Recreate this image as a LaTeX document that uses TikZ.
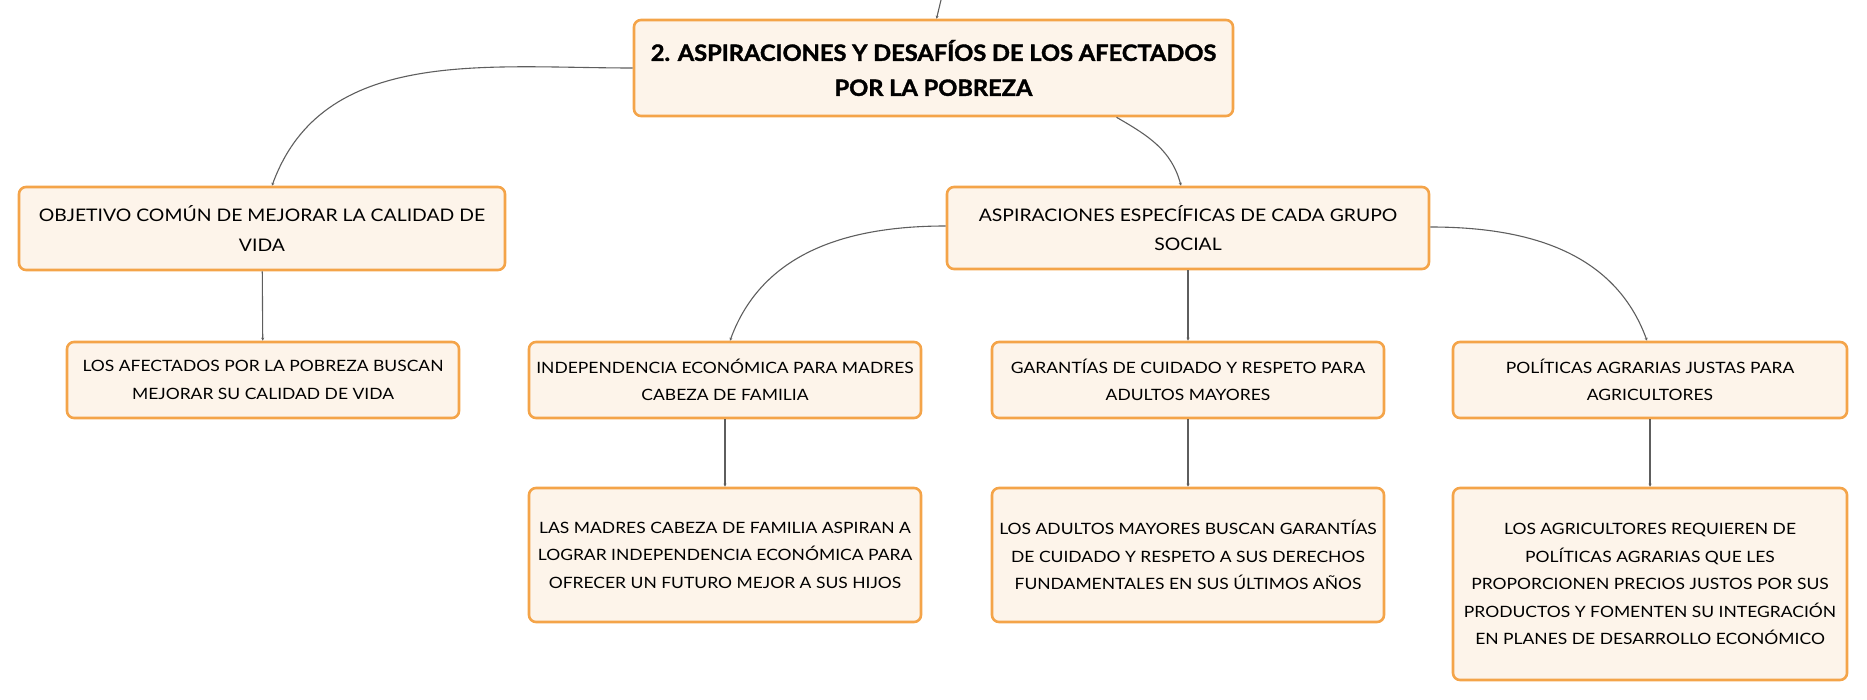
\documentclass[tikz,border=0pt]{standalone}
\usepackage{fontspec}
\setmainfont{Lato}[FakeStretch=1.12]
\newfontfamily\titlefont{Lato}[FakeStretch=1.05,BoldFeatures={FakeBold=1.6}]
\usetikzlibrary{
    positioning,
    arrows.meta,
    calc
}
\definecolor{boxfill}{HTML}{FDF4EA}
\definecolor{boxline}{HTML}{F4A449}
\definecolor{linkgray}{HTML}{5E5E5E}

\begin{document}
\begin{tikzpicture}[x=1pt,y=-1pt,
		box/.style={draw=boxline,line width=2.6pt,fill=boxfill,rounded corners=7pt,align=center,inner sep=0pt,font=\fontsize{15.6}{27.5}\selectfont},
		topic/.style={box,font=\fontsize{17.3}{29.5}\selectfont},
		link/.style={draw=linkgray,line width=1.1pt,-{Stealth[length=3pt,width=3pt]}}]
		\useasboundingbox (0,0) rectangle (1867,700);
		\node[box,minimum width=599,minimum height=96,font=\titlefont\fontsize{22.5}{35}\selectfont\bfseries] (main) at (933.5,68) {2. ASPIRACIONES Y DESAFÍOS DE LOS AFECTADOS\\POR LA POBREZA};
		\node[topic,minimum width=486,minimum height=83] (obj) at (262,228.5) {OBJETIVO COMÚN DE MEJORAR LA CALIDAD DE\\VIDA};
		\node[box,minimum width=392,minimum height=76] (afe) at (263,380) {LOS AFECTADOS POR LA POBREZA BUSCAN\\MEJORAR SU CALIDAD DE VIDA};
		\node[topic,minimum width=482,minimum height=82] (asp) at (1188,228) {ASPIRACIONES ESPECÍFICAS DE CADA GRUPO\\SOCIAL};
		\node[box,minimum width=392,minimum height=76] (ind) at (725,380) {INDEPENDENCIA ECONÓMICA PARA MADRES\\CABEZA DE FAMILIA};
		\node[box,minimum width=392,minimum height=76] (gar) at (1188,380) {GARANTÍAS DE CUIDADO Y RESPETO PARA\\ADULTOS MAYORES};
		\node[box,minimum width=394,minimum height=76] (pol) at (1650,380) {POLÍTICAS AGRARIAS JUSTAS PARA\\AGRICULTORES};
		\node[box,minimum width=392,minimum height=134] (mad) at (725,555) {LAS MADRES CABEZA DE FAMILIA ASPIRAN A\\LOGRAR INDEPENDENCIA ECONÓMICA PARA\\OFRECER UN FUTURO MEJOR A SUS HIJOS};
		\node[box,minimum width=392,minimum height=134] (adu) at (1188,555) {LOS ADULTOS MAYORES BUSCAN GARANTÍAS\\DE CUIDADO Y RESPETO A SUS DERECHOS\\FUNDAMENTALES EN SUS ÚLTIMOS AÑOS};
		\node[box,minimum width=394,minimum height=192] (agr) at (1650,584) {LOS AGRICULTORES REQUIEREN DE\\POLÍTICAS AGRARIAS QUE LES\\PROPORCIONEN PRECIOS JUSTOS POR SUS\\PRODUCTOS Y FOMENTEN SU INTEGRACIÓN\\EN PLANES DE DESARROLLO ECONÓMICO};
		\coordinate (up) at (941,0);
		\draw[link] (up)--($(main.north)+(3,0)$);
		\draw[link] (main.west) to[out=180,in=70] ($(obj.north)+(10,0)$);
		\draw[link] ($(main.south)+(183,0)$) to[out=-30,in=105] ($(asp.north)-(7,0)$);
		\draw[link] ($(asp.west)+(0,-2)$) to[out=180,in=70] ($(ind.north)+(5,0)$);
		\draw[link] (asp)--(gar);
		\draw[link] ($(asp.east)+(0,-1)$) to[out=0,in=110] ($(pol.north)-(3,0)$);
		\draw[link] (obj)--(afe);
		\draw[link] (ind)--(mad);
		\draw[link] (gar)--(adu);
		\draw[link] (pol)--(agr);
	\end{tikzpicture}
\end{document}
